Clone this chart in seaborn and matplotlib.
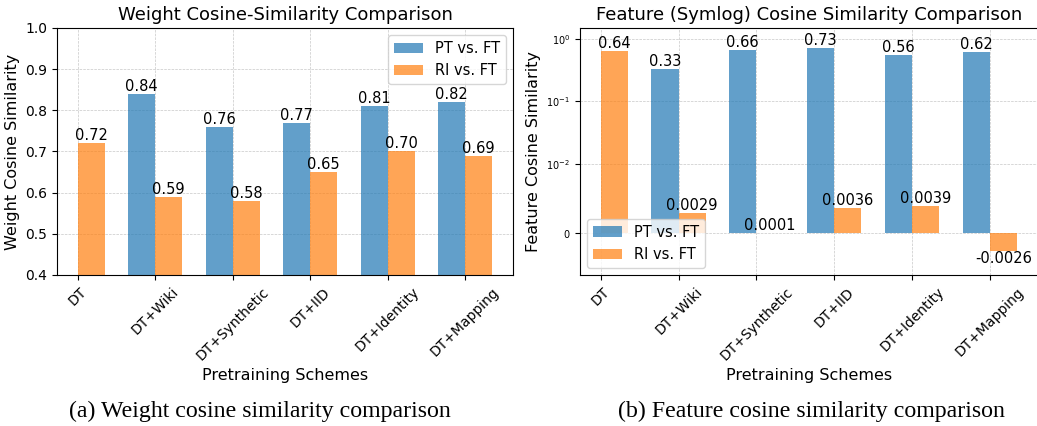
import numpy as np
import matplotlib
matplotlib.use('Agg')
import matplotlib.pyplot as plt
import seaborn as sns
import pandas as pd

schemes = ['DT', 'DT+Wiki', 'DT+Synthetic', 'DT+IID', 'DT+Identity', 'DT+Mapping']
series = ['PT vs. FT', 'RI vs. FT']

# DT has no pretrained model, so no PT vs. FT bar
weight_pt = [np.nan, 0.84, 0.76, 0.77, 0.81, 0.82]
weight_ri = [0.72, 0.59, 0.58, 0.65, 0.70, 0.69]
feature_pt = [np.nan, 0.33, 0.66, 0.73, 0.56, 0.62]
feature_ri = [0.64, 0.0029, 0.0001, 0.0036, 0.0039, -0.0026]

colors = ['#1f77b4', '#ff7f0e']


def long_df(pt, ri):
    return pd.DataFrame({
        'scheme': schemes * 2,
        'series': [series[0]] * len(schemes) + [series[1]] * len(schemes),
        'value': list(pt) + list(ri),
    })


fig = plt.figure(figsize=(10.37, 4.26), dpi=100)
ax1 = fig.add_axes([0.055, 0.3545, 0.4397, 0.5798])
ax2 = fig.add_axes([0.5593, 0.3545, 0.4415, 0.5798])

# (a) weight cosine similarity
sns.barplot(data=long_df(weight_pt, weight_ri), x='scheme', y='value', hue='series',
            palette=colors, width=0.7, saturation=1, alpha=0.7, errorbar=None,
            legend=False, ax=ax1)
for c in ax1.containers:
    ax1.bar_label(c, fmt='%.2f', fontsize=10.5)
ax1.set_ylim(0.4, 1.0)
ax1.set_xlim(-0.2675, 5.6175)
ax1.set_title('Weight Cosine-Similarity Comparison', fontsize=13)
ax1.set_xlabel('Pretraining Schemes', fontsize=11.5)
ax1.set_ylabel('Weight Cosine Similarity', fontsize=11.5)
ax1.tick_params(axis='both', labelsize=10)
ax1.tick_params(axis='x', labelrotation=45)
ax1.grid(True, linestyle='--', linewidth=0.5, alpha=0.7)
ax1.set_axisbelow(True)
ax1.legend(handles=ax1.containers, labels=series, loc='upper right', fontsize=10.5)

# (b) feature cosine similarity on symlog axis
sns.barplot(data=long_df(feature_pt, feature_ri), x='scheme', y='value', hue='series',
            palette=colors, width=0.7, saturation=1, alpha=0.7, errorbar=None,
            legend=False, ax=ax2)
ax2.set_yscale('symlog', linthresh=0.01)
for c in ax2.containers:
    ax2.bar_label(c, fmt=lambda v: f'{v:.2g}', fontsize=10.5)
ax2.set_ylim(-0.006, 1.5)
ax2.set_xlim(-0.2675, 5.6175)
ax2.set_title('Feature (Symlog) Cosine Similarity Comparison', fontsize=13)
ax2.set_xlabel('Pretraining Schemes', fontsize=11.5)
ax2.set_ylabel('Feature Cosine Similarity', fontsize=11.5)
ax2.tick_params(axis='x', labelsize=10, labelrotation=45)
ax2.tick_params(axis='y', labelsize=7)
ax2.grid(True, linestyle='--', linewidth=0.5, alpha=0.7)
ax2.set_axisbelow(True)
ax2.legend(handles=ax2.containers, labels=series, loc='lower left', fontsize=10.5)

fig.text(260 / 1037, 1 - 411 / 426, '(a) Weight cosine similarity comparison',
         family='Liberation Serif', fontsize=17.2, ha='center', va='center')
fig.text(812 / 1037, 1 - 411 / 426, '(b) Feature cosine similarity comparison',
         family='Liberation Serif', fontsize=17.2, ha='center', va='center')

fig.savefig('out.png', dpi=100)
